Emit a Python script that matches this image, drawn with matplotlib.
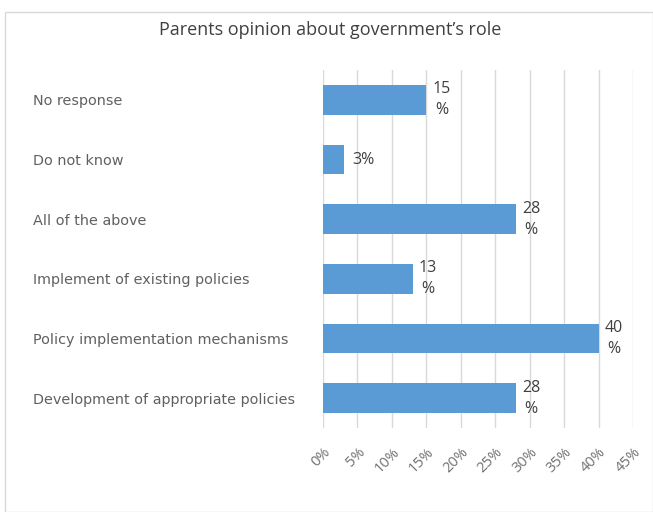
import matplotlib.pyplot as plt
from matplotlib.patches import Rectangle

categories = ['No response', 'Do not know', 'All of the above',
              'Implement of existing policies', 'Policy implementation mechanisms',
              'Development of appropriate policies']
values = [15, 3, 28, 13, 40, 28]
value_labels = ['15\n%', '3%', '28\n%', '13\n%', '40\n%', '28\n%']
ticks = [0, 5, 10, 15, 20, 25, 30, 35, 40, 45]

plt.rcParams['font.family'] = ['Open Sans', 'DejaVu Sans']
grey = '#595959'

fig = plt.figure(figsize=(6.53, 5.12), dpi=100)
fig.patches.append(Rectangle((5 / 653, 0.0), 648 / 653, 1 - 12 / 512,
                             transform=fig.transFigure, fill=False,
                             edgecolor='#d9d9d9', linewidth=1))
ax = fig.add_axes([323 / 653, 1 - 428 / 512, 310 / 653, 358 / 512])

y = list(range(len(categories)))[::-1]
ax.barh(y, values, height=0.5, color='#5b9bd5', zorder=2)
ax.set_xlim(0, 45)
ax.set_ylim(-0.5, len(categories) - 0.5)
ax.set_xticks(ticks)
ax.set_xticklabels(['%d%%' % t for t in ticks], rotation=45, ha='right',
                   rotation_mode='anchor', fontsize=10.5, color='#707070')
ax.tick_params(axis='x', length=0, pad=12)
ax.set_yticks(y)
ax.set_yticklabels(categories, fontsize=10.4, color='#606060', ha='left',
                   family='DejaVu Sans')
# pad in points: 290 px at 100 dpi
ax.tick_params(axis='y', length=0, pad=290 * 72 / 100)
ax.grid(axis='x', color='#d9d9d9', linewidth=1, zorder=0)
for s in ax.spines.values():
    s.set_visible(False)

for yi, v, lab in zip(y, values, value_labels):
    if '\n' in lab:
        ax.text(v + 0.9, yi, lab, va='center', ha='left', fontsize=11.5,
                color='#404040', linespacing=1.4, multialignment='center')
    else:
        ax.text(v + 1.2, yi, lab, va='center', ha='left', fontsize=11.5,
                color='#404040')

fig.text(330 / 653, 1 - 30 / 512, "Parents opinion about government\u2019s role",
         ha='center', va='center', fontsize=13, color='#404040')

fig.savefig('out.png', dpi=100)
